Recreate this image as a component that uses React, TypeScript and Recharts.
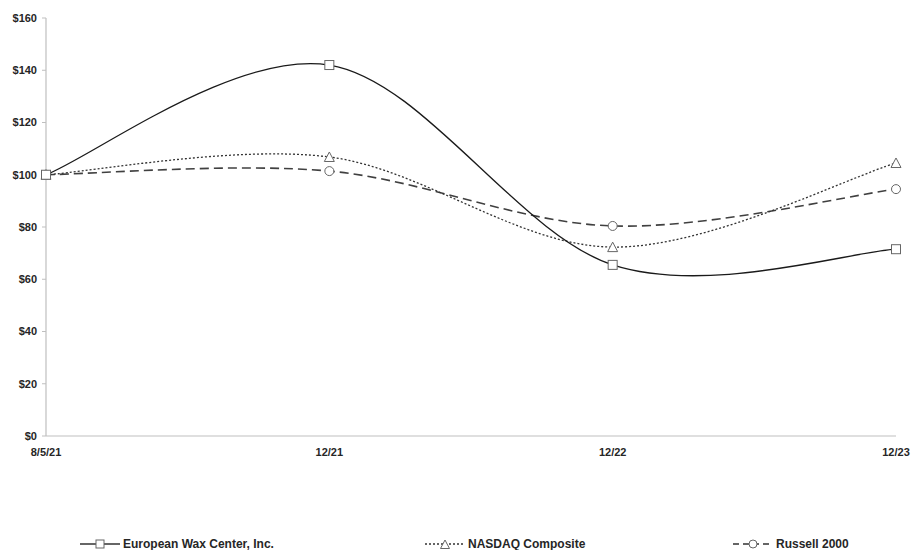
import React from 'react';
import { LineChart, Line, XAxis, YAxis } from 'recharts';

const periods = ['8/5/21', '12/21', '12/22', '12/23'];
const europeanWax = [100, 142, 65.5, 71.5];
const nasdaq = [100, 106.8, 72.3, 104.5];
const russell = [100, 101.4, 80.4, 94.5];
const yTicks = [0, 20, 40, 60, 80, 100, 120, 140, 160];

const chartData = periods.map((p, i) => ({
  period: p,
  ewc: europeanWax[i],
  nasdaq: nasdaq[i],
  russell: russell[i],
}));

const FONT = '"Liberation Sans", Arial, sans-serif';
const TEXT = '#262626';
const AXIS = '#bfbfbf';
const MARK = '#666';

// Excel-style smoothed line (bezier through the points)
const excelSmooth: any = (context: any) => {
  let pts: number[][] = [];
  return {
    areaStart() {},
    areaEnd() {},
    lineStart() { pts = []; },
    point(x: number, y: number) { pts.push([+x, +y]); },
    lineEnd() {
      if (!pts.length) return;
      context.moveTo(pts[0][0], pts[0][1]);
      for (let i = 0; i < pts.length - 1; i++) {
        const p0 = pts[Math.max(i - 1, 0)];
        const p1 = pts[i];
        const p2 = pts[i + 1];
        const p3 = pts[Math.min(i + 2, pts.length - 1)];
        context.bezierCurveTo(
          p1[0] + (p2[0] - p0[0]) / 6, p1[1] + (p2[1] - p0[1]) / 6,
          p2[0] - (p3[0] - p1[0]) / 6, p2[1] - (p3[1] - p1[1]) / 6,
          p2[0], p2[1]
        );
      }
    },
  };
};

const Square = ({ cx, cy, s = 9 }: any) => (
  <rect x={cx - s / 2} y={cy - s / 2} width={s} height={s} fill="#fff" stroke={MARK} strokeWidth={1} />
);
const Triangle = ({ cx, cy, s = 9 }: any) => (
  <polygon points={`${cx},${cy - s / 2 - 0.5} ${cx + s / 2 + 0.5},${cy + s / 2} ${cx - s / 2 - 0.5},${cy + s / 2}`} fill="#fff" stroke={MARK} strokeWidth={1} />
);
const Circle = ({ cx, cy, s = 9 }: any) => (
  <circle cx={cx} cy={cy} r={s / 2} fill="#fff" stroke={MARK} strokeWidth={1} />
);

const dotFn = (Shape: any) => (props: any) => <Shape key={`${props.dataKey}-${props.index}`} cx={props.cx} cy={props.cy} />;

const LegendItem = ({ left, label, dash, width, shape }: any) => (
  <div style={{ position: 'absolute', left, top: 536, display: 'flex', alignItems: 'center' }}>
    <svg width={40} height={16} style={{ marginRight: 3 }}>
      <line x1={0} y1={8} x2={40} y2={8} stroke="#333" strokeWidth={width} strokeDasharray={dash} />
      {shape === 'square' && <Square cx={20} cy={8} s={8} />}
      {shape === 'triangle' && <Triangle cx={20} cy={8.5} s={8} />}
      {shape === 'circle' && <Circle cx={20} cy={8} s={8} />}
    </svg>
    <span style={{ fontFamily: FONT, fontWeight: 'bold', fontSize: 12, color: TEXT, whiteSpace: 'nowrap' }}>{label}</span>
  </div>
);

const App: React.FC = () => {
  return (
    <div style={{ position: 'absolute', left: 0, top: 0, width: 911, height: 550, background: '#fff' }}>
      <LineChart width={911} height={550} data={chartData} margin={{ top: 18, right: 15, left: 0, bottom: 84 }}>
        <XAxis
          dataKey="period"
          axisLine={{ stroke: AXIS, strokeWidth: 1.2 }}
          tickLine={false}
          tickSize={0}
          tickMargin={12}
          height={30}
          interval={0}
          tick={{ fill: TEXT, fontFamily: FONT, fontWeight: 'bold', fontSize: 11 }}
        />
        <YAxis
          domain={[0, 160]}
          ticks={yTicks}
          width={46}
          axisLine={{ stroke: AXIS, strokeWidth: 1.2 }}
          tickLine={{ stroke: AXIS }}
          tickSize={4}
          tickMargin={5}
          tickFormatter={(v: number) => `$${v}`}
          tick={{ fill: TEXT, fontFamily: FONT, fontWeight: 'bold', fontSize: 11 }}
        />
        <Line
          dataKey="russell"
          type={excelSmooth}
          stroke="#404040"
          strokeWidth={1.6}
          strokeDasharray="9 5"
          dot={dotFn(Circle)}
          isAnimationActive={false}
        />
        <Line
          dataKey="nasdaq"
          type={excelSmooth}
          stroke="#333"
          strokeWidth={1.3}
          strokeDasharray="2 2"
          dot={dotFn(Triangle)}
          isAnimationActive={false}
        />
        <Line
          dataKey="ewc"
          type={excelSmooth}
          stroke="#1a1a1a"
          strokeWidth={1.3}
          dot={dotFn(Square)}
          isAnimationActive={false}
        />
      </LineChart>
      <LegendItem left={80} label="European Wax Center, Inc." width={1.3} shape="square" />
      <LegendItem left={425} label="NASDAQ Composite" width={1.3} dash="2 2" shape="triangle" />
      <LegendItem left={733} label="Russell 2000" width={1.6} dash="6 4" shape="circle" />
    </div>
  );
};

export default App;
